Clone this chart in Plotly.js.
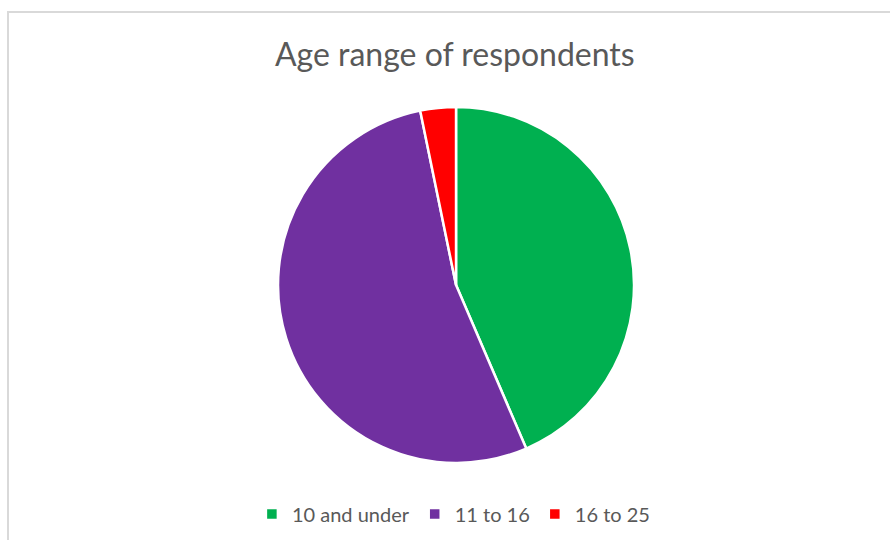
<!DOCTYPE html>
<html>
<head>
<meta charset="utf-8">
<script src="https://cdn.plot.ly/plotly-3.0.1.min.js"></script>
<style>
html,body{margin:0;padding:0;background:#fff;}
#wrap{position:relative;width:890px;height:540px;overflow:hidden;}
#frame{position:absolute;left:7px;top:11px;width:900px;height:600px;border-top:2px solid #d9d9d9;border-left:2px solid #d9d9d9;box-sizing:border-box;}
#chart{position:absolute;left:0;top:0;width:890px;height:540px;}
</style>
</head>
<body>
<div id="wrap">
<div id="frame"></div>
<div id="chart"></div>
</div>
<script>
const categories = ["10 and under", "11 to 16", "16 to 25"];
const counts = [27, 33, 2];
const colors = ["#00B050", "#7030A0", "#FF0000"];
const chartTitle = "Age range of respondents";

const trace = {
  type: "pie",
  labels: categories,
  values: counts,
  sort: false,
  direction: "clockwise",
  rotation: 0,
  marker: {colors: colors, line: {color: "#ffffff", width: 2.5}},
  textinfo: "none",
  hoverinfo: "label+value+percent",
  domain: {x: [0.3124, 0.7124], y: [0.1426, 0.8019]}
};

const layout = {
  width: 890,
  height: 540,
  margin: {l: 0, r: 0, t: 0, b: 0},
  paper_bgcolor: "rgba(0,0,0,0)",
  plot_bgcolor: "rgba(0,0,0,0)",
  title: {
    text: chartTitle,
    font: {family: "Lato, 'Open Sans', sans-serif", size: 32, color: "#595959"},
    x: 0.511, xanchor: "center",
    y: 0.898, yanchor: "middle"
  },
  showlegend: true,
  legend: {
    orientation: "h",
    x: 0.51, xanchor: "center",
    y: 0.048, yanchor: "middle",
    font: {family: "Lato, 'Open Sans', sans-serif", size: 20, color: "#595959"},
    itemwidth: 30,
    traceorder: "normal"
  }
};

Plotly.newPlot("chart", [trace], layout, {displayModeBar: false, staticPlot: true});
</script>
</body>
</html>
